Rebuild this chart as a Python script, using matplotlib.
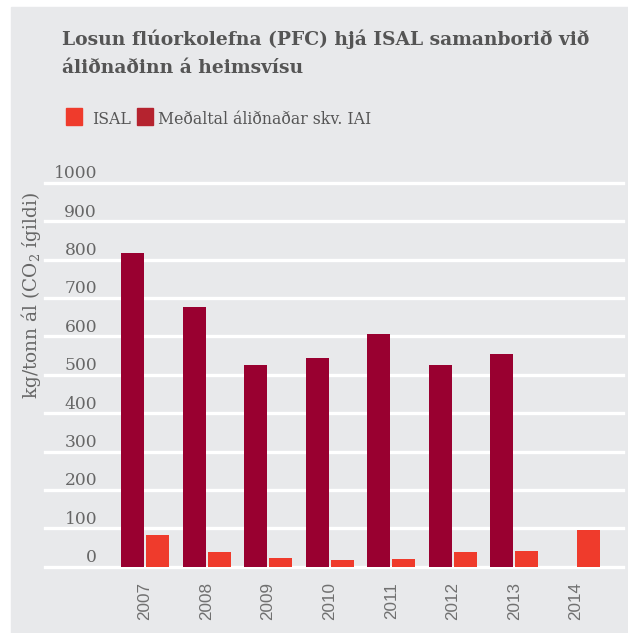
import numpy as np
import matplotlib.pyplot as plt
from matplotlib.patches import Rectangle

plt.rcParams['mathtext.fontset'] = 'dejavuserif'

years = ['2007', '2008', '2009', '2010', '2011', '2012', '2013', '2014']
iai = [817, 676, 525, 543, 606, 525, 554, np.nan]
isal = [82, 38, 23, 17, 20, 38, 41, 95]
yticks = [0, 100, 200, 300, 400, 500, 600, 700, 800, 900, 1000]

title1 = 'Losun flúorkolefna (PFC) hjá ISAL samanborið við'
title2 = 'áliðnaðinn á heimsvísu'
ylabel = 'kg/tonn ál (CO$_2$ ígildi)'

c_iai = '#990030'
c_isal = '#ef3b2c'
c_iai_leg = '#b5232f'
bg = '#e8e9eb'
txt = '#555555'

W, H = 628, 633
fig = plt.figure(figsize=(W / 100, H / 100), dpi=100)
fig.patch.set_facecolor('white')
fig.add_artist(Rectangle((11 / W, 0), 1 - 11 / W, 1 - 7 / H,
                         transform=fig.transFigure, color=bg, zorder=-10))

ax = fig.add_axes([45 / W, (H - 566.7) / H, (623 - 45) / W, (566.7 - 182.7) / H])
ax.set_facecolor('none')
ax.set_ylim(0, 1000)
ax.set_xlim(-1.623, 7.763)

x = np.arange(len(years))
w = 0.373
ax.bar(x - 0.203, iai, width=w, color=c_iai, zorder=3)
ax.bar(x + 0.203, isal, width=w, color=c_isal, zorder=3)

for v in yticks:
    ax.axhline(v, color='white', lw=2.4, zorder=1, clip_on=False)
    ax.annotate(str(v), xy=(0.09, v), xycoords=ax.get_yaxis_transform(),
                xytext=(0, 3.2), textcoords='offset points', ha='right',
                va='baseline', family='DejaVu Serif', fontsize=12.3, color='#666666')

for s in ax.spines.values():
    s.set_visible(False)
ax.set_yticks([])
ax.set_xticks(x, years, rotation=90, fontfamily='Liberation Sans',
              fontsize=12.3, color='#707070')
ax.tick_params(axis='x', length=0, pad=11)

fig.text(31 / W, 1 - 295.5 / H, ylabel, rotation=90, ha='center', va='center',
         family='DejaVu Serif', fontsize=13.3, color='#666666')

fig.text(62 / W, 1 - 45 / H, title1, ha='left', va='baseline',
         family='DejaVu Serif', fontweight='bold', fontsize=13.5, color=txt)
fig.text(62 / W, 1 - 73 / H, title2, ha='left', va='baseline',
         family='DejaVu Serif', fontweight='bold', fontsize=13.5, color=txt)

fig.add_artist(Rectangle((66 / W, 1 - 125 / H), 16 / W, 17 / H,
                         transform=fig.transFigure, color=c_isal))
fig.text(92 / W, 1 - 124.5 / H, 'ISAL', ha='left', va='baseline',
         family='DejaVu Serif', fontsize=11.3, color=txt)
fig.add_artist(Rectangle((137 / W, 1 - 125 / H), 16 / W, 17 / H,
                         transform=fig.transFigure, color=c_iai_leg))
fig.text(158 / W, 1 - 124.5 / H, 'Meðaltal áliðnaðar skv. IAI', ha='left',
         va='baseline', family='DejaVu Serif', fontsize=11.3, color=txt)

fig.savefig('out.png', dpi=100)
